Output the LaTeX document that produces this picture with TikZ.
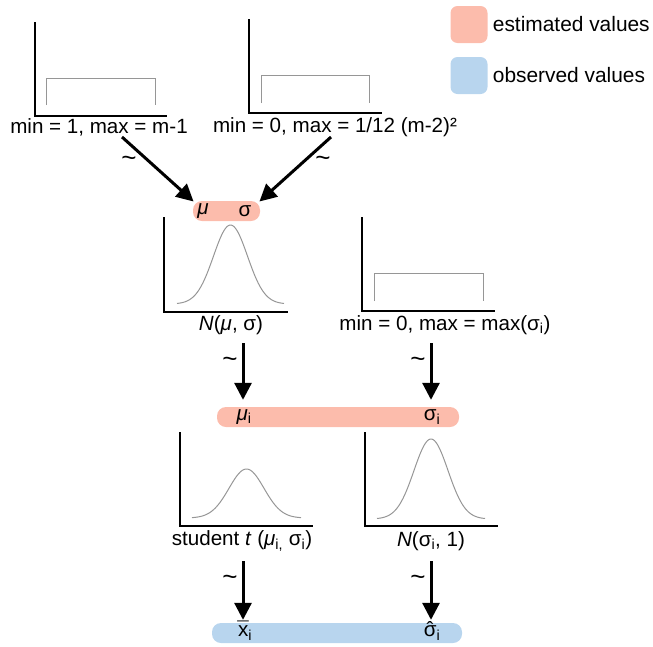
\documentclass[tikz,border=0pt]{standalone}
\usepackage{fontspec}
\setmainfont{Liberation Sans}
\usetikzlibrary{arrows.meta,positioning}
\definecolor{myred}{RGB}{252,188,172}
\definecolor{myblue}{RGB}{184,213,238}
\definecolor{mygray}{RGB}{150,150,150}
\newcommand{\sighat}{\ooalign{σ\cr\hidewidth ˆ\hidewidth\cr}}
\newcommand{\xbar}{\ooalign{x\cr\hidewidth ¯\hidewidth\cr}}

\begin{document}
\begin{tikzpicture}[x=1pt,y=-1pt,
  axis/.style={black,line width=1.1pt},
  curve/.style={mygray,line width=1pt},
  lab/.style={font=\fontsize{20.6}{24}\selectfont,inner sep=0pt},
  big/.style={font=\fontsize{20.9}{24}\selectfont,inner sep=0pt},
  tld/.style={font=\fontsize{26}{28}\selectfont,inner sep=0pt},
  pill/.style={rounded corners=9pt,minimum height=20pt,inner sep=0pt},
  key/.style={rounded corners=7pt,minimum size=37pt,inner sep=0pt},
  arr/.style={line width=3pt,-{Triangle[length=17pt,width=17pt]}}
]
\useasboundingbox (0,0) rectangle (653,646);

% the axes
\foreach \ax/\yt/\yb/\xr in {35/22/116/167,249/19/113/382,164/217/312/288,362/217/311/495,180/432/526/313,365/432/526/498}
  \draw[axis] (\ax,\yt) -- (\ax,\yb) -- (\xr,\yb);

% the uniform priors
\foreach \xa/\xb/\yt/\yb in {46/155/78/105,261/369/75/103,374/483/273/301}
  \draw[curve] (\xa,\yb) -- (\xa,\yt) -- (\xb,\yt) -- (\xb,\yb);

% the bell curves
\draw[curve,domain=177:284,samples=80] plot (\x,{304-79*exp(-((\x-230.5)/17)^2/2)});
\draw[curve,domain=192:301,samples=80] plot (\x,{518-49*exp(-((\x-246.5)/17.5)^2/2)});
\draw[curve,domain=377:485,samples=80] plot (\x,{519-80*exp(-((\x-431)/17)^2/2)});

% the labels
\node[lab] (lab1) at (99,127) {min = 1, max = m-1};
\node[lab] (lab2) at (335,127) {min = 0, max = 1/12 (m-2)²};
\node[lab] (lab3) at (231,325) {\textit{N}(\textit{μ}, σ)};
\node[lab] (lab4) at (445,325) {min = 0, max = max(σ\textsubscript{i})};
\node[lab] (lab5) at (242,541) {student \textit{t} (\textit{μ}\textsubscript{i,} σ\textsubscript{i})};
\node[lab] (lab6) at (431,541) {\textit{N}(σ\textsubscript{i}, 1)};

% the estimated values
\node[pill,fill=myred,minimum width=67pt] (p1) at (226.5,211) {};
\node[lab] (mu) at (203,211) {\textit{μ}};
\node[lab] (sig) at (245,211) {σ};
\node[pill,fill=myred,minimum width=242pt] (p2) at (338,417) {};
\node[lab] (mui) at (244,417) {\textit{μ}\textsubscript{i}};
\node[lab] (sigi) at (432,417) {σ\textsubscript{i}};

% the observed values
\node[pill,fill=myblue,minimum width=250pt] (p3) at (337,633) {};
\node[lab] (xb) at (245,633) {\xbar\textsubscript{i}};
\node[lab] (sigh) at (432,633) {\sighat\textsubscript{i}};

% the key
\node[key,fill=myred] (kred) at (469,24.5) {};
\node[big,right=5pt of kred] (kredt) {estimated values};
\node[key,fill=myblue] (kblue) at (469,75.5) {};
\node[big,right=5pt of kblue] (kbluet) {observed values};

% the arrows
\coordinate (t1) at (122,137);
\coordinate (t2) at (331,137);
\coordinate (t3) at (243,343);
\coordinate (t4) at (431,343);
\coordinate (t5) at (243,561);
\coordinate (t6) at (431,561);
\draw[arr,shorten >=-1pt] (t1) -- (p1.north west);
\draw[arr,shorten >=-1pt] (t2) -- (p1.north east);
\draw[arr,shorten >=7pt] (t3) -- (t3 |- p2.north);
\draw[arr,shorten >=7pt] (t4) -- (t4 |- p2.north);
\draw[arr,shorten >=3pt] (t5) -- (t5 |- p3.north);
\draw[arr,shorten >=3pt] (t6) -- (t6 |- p3.north);

% the tildes
\foreach \tx/\ty/\nm in {129/161/s1,323/161/s2,230/362/s3,418/362/s4,230/580/s5,418/580/s6}
  \node[tld] (\nm) at (\tx,\ty) {\textasciitilde};
\end{tikzpicture}
\end{document}
